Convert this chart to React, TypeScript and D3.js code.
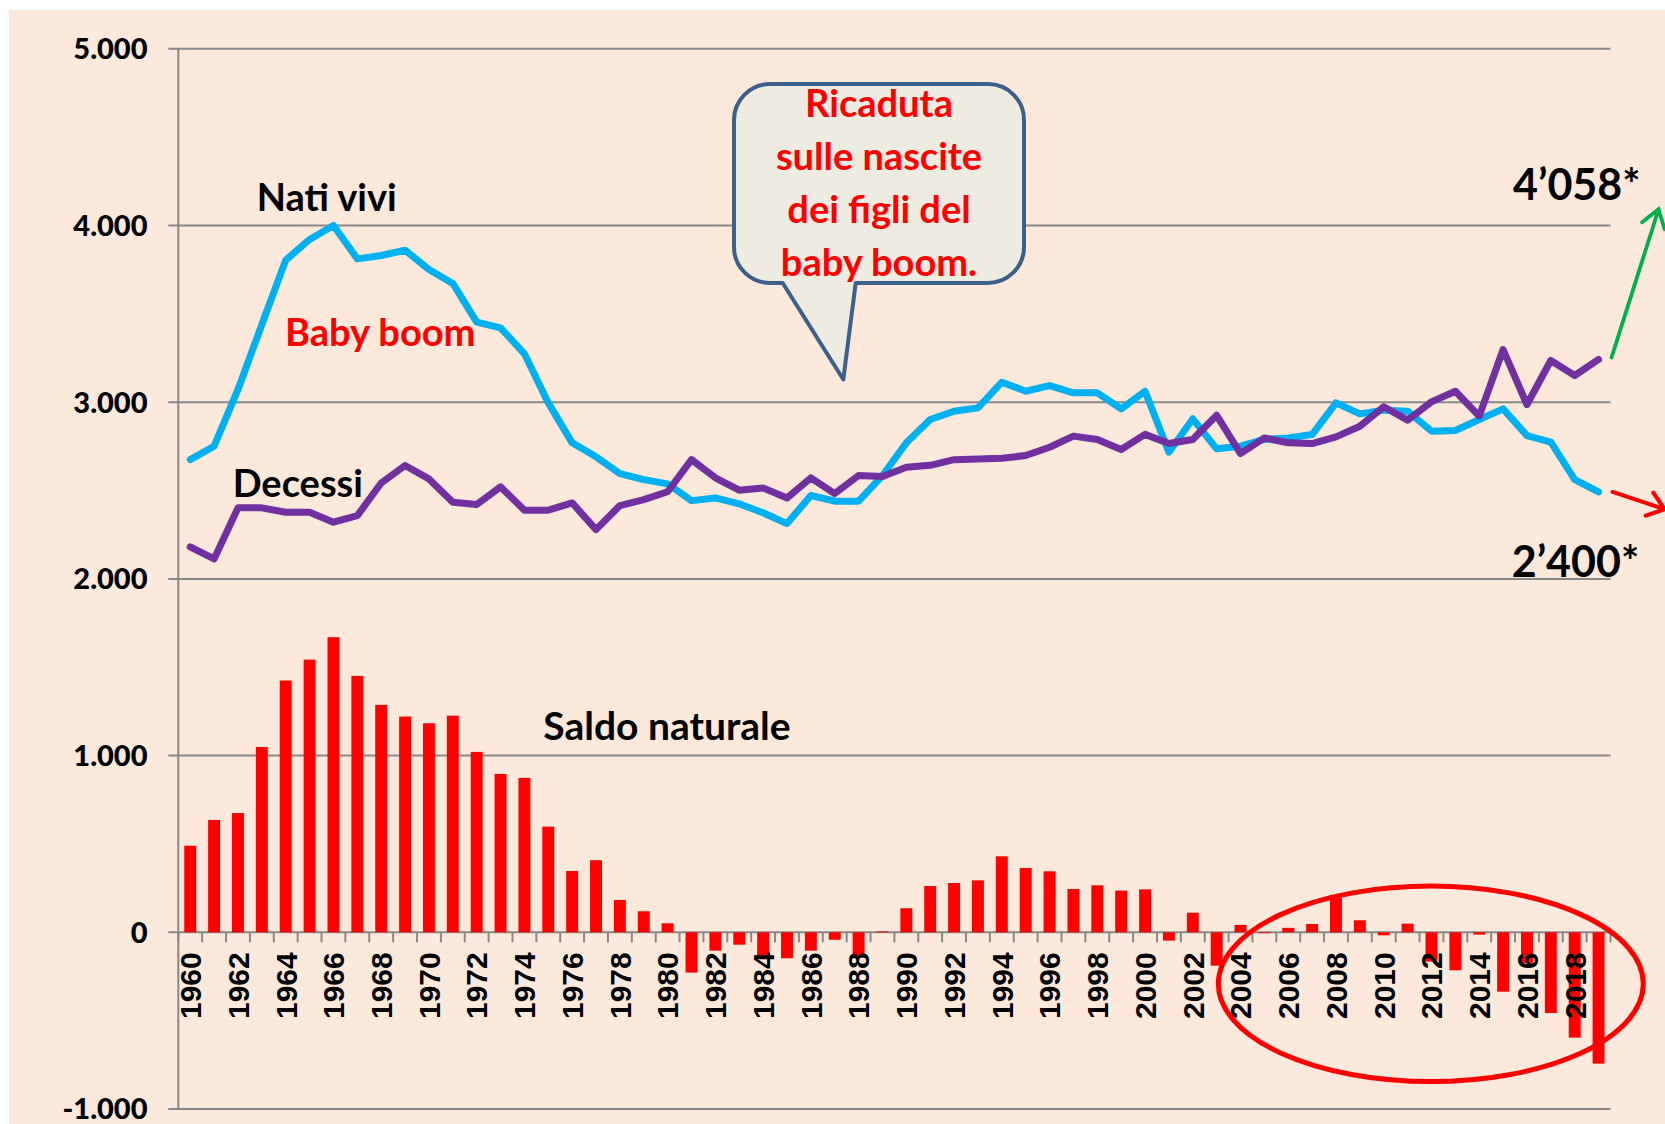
import React from 'react'
import * as d3 from 'd3'

const width = 1665
const height = 1124
const margin = {top: 48.8, right: 1610.5, bottom: 1109, left: 178.3}

// ------- data --------//
const years = [
  1960, 1961, 1962, 1963, 1964, 1965, 1966, 1967, 1968, 1969,
  1970, 1971, 1972, 1973, 1974, 1975, 1976, 1977, 1978, 1979,
  1980, 1981, 1982, 1983, 1984, 1985, 1986, 1987, 1988, 1989,
  1990, 1991, 1992, 1993, 1994, 1995, 1996, 1997, 1998, 1999,
  2000, 2001, 2002, 2003, 2004, 2005, 2006, 2007, 2008, 2009,
  2010, 2011, 2012, 2013, 2014, 2015, 2016, 2017, 2018, 2019,
]

const natiVivi = [
  2675, 2751, 3072, 3440, 3804, 3921, 4000, 3811, 3830, 3860,
  3751, 3672, 3453, 3421, 3274, 2996, 2770, 2691, 2596, 2562,
  2538, 2443, 2458, 2425, 2374, 2313, 2472, 2440, 2440, 2585,
  2770, 2902, 2949, 2968, 3113, 3062, 3094, 3053, 3053, 2962,
  3062, 2717, 2906, 2736, 2751, 2789, 2798, 2817, 2996, 2934,
  2955, 2949, 2836, 2840, 2902, 2962, 2811, 2774, 2562, 2492,
]

const decessi = [
  2181, 2113, 2402, 2402, 2377, 2377, 2321, 2358, 2543, 2642,
  2566, 2434, 2421, 2521, 2389, 2389, 2430, 2279, 2415, 2449,
  2493, 2675, 2572, 2502, 2515, 2458, 2572, 2483, 2585, 2580,
  2632, 2643, 2675, 2679, 2683, 2698, 2745, 2808, 2789, 2732,
  2818, 2766, 2789, 2926, 2709, 2798, 2770, 2766, 2804, 2864,
  2974, 2898, 3002, 3062, 2921, 3298, 2987, 3236, 3151, 3242,
]

const saldoNaturale = [
  490, 636, 675, 1049, 1425, 1543, 1670, 1451, 1287, 1221,
  1183, 1226, 1021, 896, 874, 598, 347, 408, 183, 119,
  51, -228, -104, -70, -138, -147, -104, -42, -140, 5,
  136, 262, 279, 294, 430, 364, 345, 245, 266, 236,
  243, -47, 111, -189, 42, -5, 25, 47, 196, 68,
  -17, 49, -166, -215, -13, -336, -176, -457, -596, -743,
]

const yTicks = [5000, 4000, 3000, 2000, 1000, 0, -1000]
const yTickLabels = ['5.000', '4.000', '3.000', '2.000', '1.000', '0', '-1.000']

// projections shown by the arrows on the right
const projLabels = ['4’058*', '2’400*']
const projValues = [4058, 2400]

const calloutLines = ['Ricaduta', 'sulle nascite', 'dei figli del', 'baby boom.']

const peach = '#FCE9DB'
const grid = '#888888'
const blue = '#00B0F0'
const purple = '#7030A0'
const red = '#FF0000'
const green = '#00B050'
const titleFont = 'Lato, Carlito, "Open Sans", sans-serif'
const yearFont = '"Liberation Sans", Arial, sans-serif'

function arrowPath(x1: number, y1: number, x2: number, y2: number, len: number, ang: number) {
  const a = Math.atan2(y1 - y2, x1 - x2)
  const ax = x2 + len * Math.cos(a + ang), ay = y2 + len * Math.sin(a + ang)
  const bx = x2 + len * Math.cos(a - ang), by = y2 + len * Math.sin(a - ang)
  return `M${x1},${y1}L${x2},${y2}M${ax},${ay}L${x2},${y2}L${bx},${by}`
}

export default function App() {
  // ------- scale ---------//
  const xScale = d3.scaleBand<number>()
    .domain(years)
    .range([margin.left, margin.right])
    .paddingInner(0.5)
    .paddingOuter(0.25)

  const yScale = d3.scaleLinear()
    .domain([-1000, 5000])
    .range([margin.bottom, margin.top])

  const cx = (yr: number) => (xScale(yr) as number) + xScale.bandwidth() / 2
  const step = xScale.step()

  const line = d3.line<number>()
    .x((d, i) => cx(years[i]))
    .y(d => yScale(d))

  const boundaries = years.map(yr => (xScale(yr) as number) - step * 0.25).concat([margin.right])
  const y0 = yScale(0)

  // arrows from last point to the projected values
  const lastX = cx(years[years.length - 1])
  const greenArrow = arrowPath(lastX + 13, yScale(decessi[decessi.length - 1]) - 2,
    lastX + 60, yScale(projValues[0]) - 6, 21, 0.6)
  const redArrow = arrowPath(lastX + 14, yScale(natiVivi[natiVivi.length - 1]),
    lastX + 66, yScale(projValues[1]) + 1, 20, 0.65)

  // callout box
  const bx0 = 734, bx1 = 1024, by0 = 84, by1 = 283, r = 36
  const callout = `M${bx0 + r},${by0}H${bx1 - r}A${r},${r} 0 0 1 ${bx1},${by0 + r}V${by1 - r}` +
    `A${r},${r} 0 0 1 ${bx1 - r},${by1}H855.7L843.3,379.5L782.7,${by1}H${bx0 + r}` +
    `A${r},${r} 0 0 1 ${bx0},${by1 - r}V${by0 + r}A${r},${r} 0 0 1 ${bx0 + r},${by0}Z`

  return (
    <svg width={width} height={height}
      style={{position: 'absolute', left: 0, top: 0, display: 'block'}}>
      <rect x={0} y={0} width={width} height={height} fill="#ffffff" />
      <rect x={9} y={10} width={width - 9} height={height - 10} fill={peach} />

      {/* grid */}
      {yTicks.map(t => (
        <line key={t} x1={margin.left - 10} x2={margin.right} y1={yScale(t)} y2={yScale(t)}
          stroke={grid} strokeWidth={2} />
      ))}
      <line x1={margin.left} x2={margin.left} y1={margin.top} y2={margin.bottom}
        stroke={grid} strokeWidth={2} />

      {/* bars */}
      {saldoNaturale.map((v, i) => (
        <rect key={years[i]} x={xScale(years[i])} width={xScale.bandwidth()}
          y={Math.min(yScale(v), y0)} height={Math.abs(yScale(v) - y0)} fill={red} />
      ))}

      {/* x ticks */}
      {boundaries.map((b, i) => (
        <line key={i} x1={b} x2={b} y1={y0} y2={y0 + 10} stroke={grid} strokeWidth={2} />
      ))}

      {/* lines */}
      <path d={line(natiVivi) as string} fill="none" stroke={blue} strokeWidth={7}
        strokeLinejoin="round" strokeLinecap="round" />
      <path d={line(decessi) as string} fill="none" stroke={purple} strokeWidth={7}
        strokeLinejoin="round" strokeLinecap="round" />

      {/* y labels */}
      {yTicks.map((t, i) => (
        <text key={t} x={147.5} y={yScale(t)} dy="0.36em" textAnchor="end"
          fontFamily={titleFont} fontWeight="900" fontSize={29} fill="#000">{yTickLabels[i]}</text>
      ))}

      {/* year labels */}
      {years.filter((yr, i) => i % 2 === 0).map(yr => (
        <text key={yr} transform={`translate(${cx(yr)},${y0 + 20}) rotate(-90)`} dy="0.36em"
          textAnchor="end" fontFamily={yearFont} fontWeight="bold" fontSize={30} fill="#000">{yr}</text>
      ))}

      {/* annotations */}
      <text x={256.7} y={210.7} fontFamily={titleFont} fontWeight="bold" fontSize={38} fill="#000">Nati vivi</text>
      <text x={285} y={346} fontFamily={titleFont} fontWeight="bold" fontSize={38} fill={red}>Baby boom</text>
      <text x={232.7} y={496.7} fontFamily={titleFont} fontWeight="bold" fontSize={38} fill="#000">Decessi</text>
      <text x={543.3} y={740} fontFamily={titleFont} fontWeight="bold" fontSize={39} fill="#000">Saldo naturale</text>

      <path d={callout} fill="#EEEBE0" stroke="#3D5F8C" strokeWidth={4} strokeLinejoin="round" />
      {calloutLines.map((s, i) => (
        <text key={s} x={879} y={116.5 + i * 53} textAnchor="middle" fontFamily={titleFont}
          fontWeight="bold" fontSize={38} fill={red}>{s}</text>
      ))}

      <path d={greenArrow} fill="none" stroke={green} strokeWidth={3.8} strokeLinecap="round" />
      <path d={redArrow} fill="none" stroke={red} strokeWidth={4} strokeLinecap="round" />
      <text x={1513} y={200} fontFamily={titleFont} fontWeight="bold" fontSize={43} fill="#000">{projLabels[0]}</text>
      <text x={1511.7} y={576.7} fontFamily={titleFont} fontWeight="bold" fontSize={43} fill="#000">{projLabels[1]}</text>

      <ellipse cx={1430.8} cy={983.8} rx={212.5} ry={97.8} fill="none" stroke={red} strokeWidth={5} />
    </svg>
  )
}
